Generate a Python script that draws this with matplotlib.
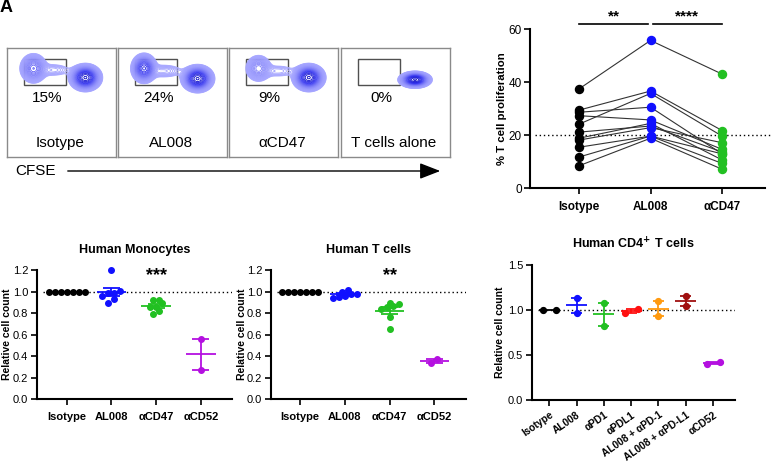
import matplotlib
matplotlib.use("Agg")
import matplotlib.pyplot as plt
import numpy as np
from matplotlib.colors import LinearSegmentedColormap

plt.rcParams["font.family"] = ["Liberation Sans", "DejaVu Sans"]

# --- flow panels (CFSE dilution) ---
FLOW_LABELS = ["Isotype", "AL008", "αCD47", "T cells alone"]
FLOW_PERCENT = ["15%", "24%", "9%", "0%"]
# density blobs per panel: (x, y, sx, sy, weight)
FLOW_BLOBS = [
    [(0.245, 0.815, 0.050, 0.055, 0.35), (0.42, 0.80, 0.10, 0.035, 0.04), (0.72, 0.73, 0.055, 0.046, 1.0)],
    [(0.240, 0.815, 0.045, 0.052, 0.65), (0.42, 0.79, 0.10, 0.035, 0.05), (0.73, 0.72, 0.055, 0.046, 1.0)],
    [(0.270, 0.815, 0.050, 0.052, 0.22), (0.45, 0.79, 0.10, 0.035, 0.035), (0.73, 0.73, 0.055, 0.046, 1.0)],
    [(0.680, 0.710, 0.055, 0.028, 1.0)],
]

# --- paired proliferation data ---
PROLIF_GROUPS = ["Isotype", "AL008", "αCD47"]
PROLIF_ISO = [37.5, 29.5, 28.7, 27.4, 24.2, 21.2, 18.9, 18.2, 15.5, 11.8, 8.5]
PROLIF_AL008 = [55.8, 36.7, 30.6, 25.8, 35.8, 23.5, 24.5, 22.9, 19.7, 19.7, 18.9]
PROLIF_CD47 = [43.1, 21.8, 13.0, 14.7, 19.7, 13.7, 10.7, 17.2, 13.0, 9.4, 7.2]
PROLIF_COLORS = ["black", "#1010ff", "#22c022"]

# --- relative cell counts ---
BOT_GROUPS = ["Isotype", "AL008", "αCD47", "αCD52"]
BOT_COLORS = ["black", "#1010ff", "#22c022", "#b410e0"]
MONO = [
    [1.0] * 7,
    [1.2, 0.99, 0.96, 0.99, 1.005, 0.89, 0.93],
    [0.92, 0.92, 0.89, 0.86, 0.86, 0.82, 0.79],
    [0.56, 0.275],
]
TCELL = [
    [1.0] * 7,
    [0.95, 0.98, 1.01, 0.96, 0.98, 1.0, 0.94],
    [0.86, 0.89, 0.87, 0.88, 0.835, 0.76, 0.65],
    [0.334, 0.374],
]
CD4_GROUPS = ["Isotype", "AL008", "αPD1", "αPDL1", "AL008 + αPD-1", "AL008 + αPD-L1", "αCD52"]
CD4_COLORS = ["black", "#1010ff", "#22c022", "#ff1010", "#ff9a10", "#a01010", "#b410e0"]
CD4 = [
    [1.0, 1.0],
    [1.137, 0.97],
    [1.081, 0.826],
    [0.97, 1.015],
    [1.10, 0.933],
    [1.156, 1.044],
    [0.396, 0.422],
]

W, H = 772, 463
fig = plt.figure(figsize=(W / 100, H / 100), dpi=100)


def px_axes(x0, y0, x1, y1):
    return fig.add_axes([x0 / W, 1 - y1 / H, (x1 - x0) / W, (y1 - y0) / H])


def style_axes(ax, labelsize=8):
    for s in ["top", "right"]:
        ax.spines[s].set_visible(False)
    for s in ["left", "bottom"]:
        ax.spines[s].set_linewidth(1.5)
    ax.tick_params(length=4, width=1.2, labelsize=labelsize, pad=2)


def swarm_offsets(ax, xc, values, row_tol=5.0, spacing=6.0):
    """GraphPad-like rows: points close in y share a row, row centred on xc."""
    pts = ax.transData.transform([(xc, v) for v in values])
    py = pts[:, 1]
    order = np.argsort(py)
    xs = np.zeros(len(values))
    rows, cur = [], [order[0]]
    for i in order[1:]:
        if py[i] - py[cur[0]] < row_tol:
            cur.append(i)
        else:
            rows.append(cur)
            cur = [i]
    rows.append(cur)
    inv = ax.transData.inverted()
    cx = pts[0, 0]
    for r in rows:
        n = len(r)
        for k, i in enumerate(r):
            px = cx + (k - (n - 1) / 2) * spacing
            xs[i] = inv.transform((px, py[i]))[0]
    return xs


def dot_plot(ax, groups, colors, data, msize, spacing, mean_hw, cap_hw):
    for i, (vals, c) in enumerate(zip(data, colors)):
        vals = np.asarray(vals, dtype=float)
        xs = swarm_offsets(ax, i, vals, spacing=spacing)
        m = vals.mean()
        sem = vals.std(ddof=1) / np.sqrt(len(vals))
        ax.hlines(m, i - mean_hw, i + mean_hw, color=c, lw=1.3, zorder=3)
        if sem > 0:
            ax.vlines(i, m - sem, m + sem, color=c, lw=1.3, zorder=3)
            ax.hlines([m - sem, m + sem], i - cap_hw, i + cap_hw, color=c, lw=1.3, zorder=3)
        ax.plot(xs, vals, "o", color=c, ms=msize, mec=c, zorder=4, clip_on=False)
    ax.axhline(1.0, color="black", lw=1.0, ls=(0, (1, 2)), xmin=0.03, zorder=1)
    ax.set_xticks(range(len(groups)))


# --- flow cytometry panels ---
cmap = LinearSegmentedColormap.from_list("flow", ["#a8a8ff", "#3030f0", "#0000c0"])
gx, gy = np.meshgrid(np.linspace(0, 1, 300), np.linspace(0, 1, 300))
levels = np.geomspace(0.015, 0.97, 30)
panel_left = [6.7, 117.8, 229.0, 340.7]
for k, lx in enumerate(panel_left):
    ax = px_axes(lx, 48.3, lx + 109.3, 156.7)
    ax.set_xlim(0, 1)
    ax.set_ylim(0, 1)
    ax.set_xticks([])
    ax.set_yticks([])
    for s in ax.spines.values():
        s.set_color("#8a8a8a")
        s.set_linewidth(1.0)
    z = np.zeros_like(gx)
    for (bx, by, sx, sy, w) in FLOW_BLOBS[k]:
        z += w * np.exp(-((gx - bx) ** 2 / (2 * sx ** 2) + (gy - by) ** 2 / (2 * sy ** 2)))
    ax.contour(gx, gy, z, levels=levels, cmap=cmap, linewidths=0.6)
    ax.add_patch(plt.Rectangle((0.155, 0.66), 0.385, 0.245, fill=False, ec="#505050", lw=1.0))
    ax.text(0.37, 0.54, FLOW_PERCENT[k], ha="center", va="center", fontsize=11)
    ax.text(0.485, 0.125, FLOW_LABELS[k], ha="center", va="center", fontsize=11)

fig.text(15 / W, 1 - 171 / H, "CFSE", ha="left", va="center", fontsize=11)
fig.add_artist(matplotlib.patches.FancyArrowPatch(
    (65 / W, 1 - 171 / H), (443 / W, 1 - 171 / H), transform=fig.transFigure,
    arrowstyle="-|>,head_length=0.9,head_width=0.35", mutation_scale=14, color="black", lw=1.0))
fig.text(0.0, 1 - 8 / H, "A", ha="left", va="center", fontsize=13, fontweight="bold")

# --- paired proliferation plot ---
ax = px_axes(530, 29.3, 765, 188.3)
style_axes(ax, labelsize=8.5)
series = [PROLIF_ISO, PROLIF_AL008, PROLIF_CD47]
for row in zip(*series):
    ax.plot(range(3), row, color="#333333", lw=0.8, zorder=2)
for i, vals in enumerate(series):
    ax.plot([i] * len(vals), vals, "o", color=PROLIF_COLORS[i], ms=5.8, zorder=3, clip_on=False)
ax.axhline(20, color="black", lw=1.0, ls=(0, (1, 2)), xmin=0.02, xmax=1.03, clip_on=False, zorder=1)
ax.set_xlim(-0.685, 2.6)
ax.set_ylim(0, 60)
ax.set_yticks([0, 20, 40, 60])
ax.set_xticks(range(3))
ax.set_xticklabels(PROLIF_GROUPS, fontweight="bold", fontsize=8.5)
ax.tick_params(axis="x", pad=5)
ax.set_ylabel("% T cell proliferation", fontweight="bold", fontsize=8.2)
ax.yaxis.set_label_coords(-0.097, 0.5)
for (a, b), stars in [((0.0, 0.97), "**"), ((1.03, 2.0), "****")]:
    ax.plot([a, b], [62, 62], color="black", lw=1.2, clip_on=False)
    ax.text((a + b) / 2, 62.3, stars, ha="center", va="bottom", fontsize=11, fontweight="bold")

# --- human monocytes ---
ax = px_axes(36.7, 270, 232.3, 399.3)
style_axes(ax)
ax.set_xlim(-0.67, 3.7)
ax.set_ylim(0, 1.2)
ax.set_yticks(np.arange(0, 1.21, 0.2))
ax.set_yticklabels([f"{v:.1f}" for v in np.arange(0, 1.21, 0.2)])
dot_plot(ax, BOT_GROUPS, BOT_COLORS, MONO, 4.0, 6.0, 0.33, 0.19)
ax.set_xticklabels(BOT_GROUPS, fontweight="bold", fontsize=8)
ax.tick_params(axis="x", pad=5)
ax.set_ylabel("Relative cell count", fontweight="bold", fontsize=7.5)
ax.yaxis.set_label_coords(-0.124, 0.5)
ax.set_title("Human Monocytes", fontweight="bold", fontsize=9, pad=12)
ax.text(2, 1.07, "***", ha="center", va="bottom", fontsize=13, fontweight="bold")

# --- human T cells ---
ax = px_axes(270.7, 270, 466, 399.3)
style_axes(ax)
ax.set_xlim(-0.66, 3.71)
ax.set_ylim(0, 1.2)
ax.set_yticks(np.arange(0, 1.21, 0.2))
ax.set_yticklabels([f"{v:.1f}" for v in np.arange(0, 1.21, 0.2)])
dot_plot(ax, BOT_GROUPS, BOT_COLORS, TCELL, 4.0, 6.0, 0.33, 0.19)
ax.set_xticklabels(BOT_GROUPS, fontweight="bold", fontsize=8)
ax.tick_params(axis="x", pad=5)
ax.set_ylabel("Relative cell count", fontweight="bold", fontsize=7.5)
ax.yaxis.set_label_coords(-0.120, 0.5)
ax.set_title("Human T cells", fontweight="bold", fontsize=9, pad=12)
ax.text(2, 1.07, "**", ha="center", va="bottom", fontsize=13, fontweight="bold")

# --- human CD4+ T cells ---
ax = px_axes(531.7, 265, 735, 400)
style_axes(ax)
ax.set_xlim(-0.64, 6.8)
ax.set_ylim(0, 1.5)
ax.set_yticks([0, 0.5, 1.0, 1.5])
ax.set_yticklabels(["0.0", "0.5", "1.0", "1.5"])
dot_plot(ax, CD4_GROUPS, CD4_COLORS, CD4, 4.2, 13.0, 0.38, 0.2)
ax.set_xticklabels(CD4_GROUPS, fontweight="bold", fontsize=7.3, rotation=35, ha="right",
                   rotation_mode="anchor")
ax.tick_params(axis="x", pad=3)
ax.set_ylabel("Relative cell count", fontweight="bold", fontsize=7.5)
ax.yaxis.set_label_coords(-0.129, 0.5)
ax.set_title(r"Human CD4$^{\mathbf{+}}$ T cells", fontweight="bold", fontsize=9, pad=12)

fig.savefig("out.png", dpi=100)
